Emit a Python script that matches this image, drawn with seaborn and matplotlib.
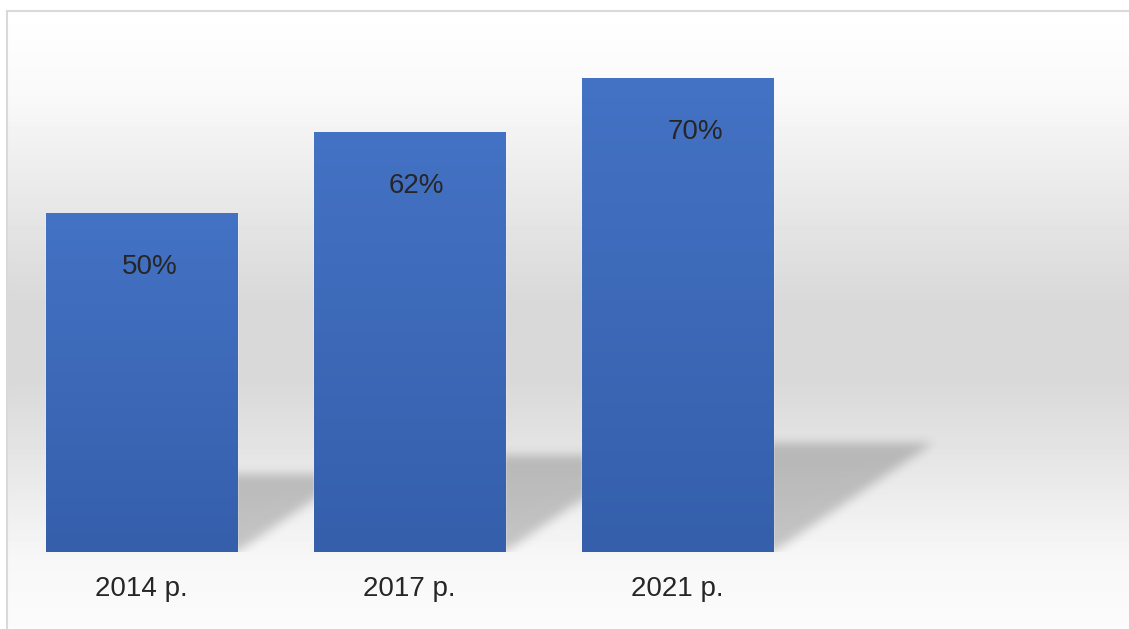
import numpy as np
import pandas as pd
import seaborn as sns
import matplotlib.pyplot as plt
from matplotlib.colors import LinearSegmentedColormap

# dados do gráfico
anos = ["2014 р.", "2017 р.", "2021 р."]
valores = [50, 62, 70]
rotulos = [f"{v}%" for v in valores]

# deslocamento horizontal dos rótulos (pixels), como na imagem original
rotulo_dx = [8, 7, 18]

W, H = 1129, 629
sns.set_theme(style="white")
plt.rcParams['font.family'] = ['Liberation Sans', 'DejaVu Sans']

fig = plt.figure(figsize=(W / 100, H / 100), dpi=100)

# 1. Fundo com gradiente cinza (moldura do gráfico)
bg = fig.add_axes([0, 0, 1, 1], zorder=0)
bg.set_xlim(0, W)
bg.set_ylim(H, 0)
bg.axis('off')
ys = np.arange(11, H)
niveis = np.interp(ys, [11, 100, 150, 300, 380, 420, 560, 629],
                   [1.0, 0.975, 0.94, 0.85, 0.85, 0.875, 0.97, 0.985])
bg.imshow(np.repeat(niveis[:, None], W - 7, axis=1), cmap='gray', vmin=0, vmax=1,
          extent=[7, W, H, 11], origin='upper', aspect='auto', interpolation='none')
bg.plot([7, 7], [H, 11], color='#d9d9d9', lw=1.5)
bg.plot([7, W], [11, 11], color='#d9d9d9', lw=1.5)

# 2. Gráfico de barras
ax = fig.add_axes([7.5 / W, 77 / H, (W - 7.5) / W, 541 / H], zorder=1)
ax.patch.set_alpha(0)
df = pd.DataFrame({"ano": anos, "valor": valores})
sns.barplot(data=df, x="ano", y="valor", color="#4472c4", saturation=1,
            width=0.713, ax=ax)

x_lim = (-0.5, -0.5 + (W - 7.5) / 268)
y_lim = (0, 80)
ax.set_xlim(*x_lim)
ax.set_ylim(*y_lim)

# px por unidade de dados
sx = 268
sy = 541 / 80

# 3. Sombra em perspectiva atrás das barras (desfocada)
nx, ny = int(W - 7.5), 541
gx = np.linspace(x_lim[0], x_lim[1], nx)
gy = np.linspace(y_lim[0], y_lim[1], ny)
X, Y = np.meshgrid(gx, gy)
mask = np.zeros_like(X)
for p in ax.patches:
    x0 = p.get_x()
    x1 = x0 + p.get_width()
    h = p.get_height()
    hs = 0.23 * h
    dx = 0.337 * h * sy / sx
    t = Y / hs
    dentro = (t >= 0) & (t <= 1) & (X >= x0 + dx * t) & (X <= x1 + dx * t)
    mask[dentro] = 1.0

sigma = 5
k = np.arange(-3 * sigma, 3 * sigma + 1)
kern = np.exp(-k ** 2 / (2 * sigma ** 2))
kern /= kern.sum()
mask = np.apply_along_axis(lambda r: np.convolve(r, kern, mode='same'), 1, mask)
mask = np.apply_along_axis(lambda c: np.convolve(c, kern, mode='same'), 0, mask)

sombra = np.zeros((ny, nx, 4))
sombra[..., 3] = mask * 0.2
ax.imshow(sombra, extent=[x_lim[0], x_lim[1], y_lim[0], y_lim[1]], origin='lower',
          aspect='auto', zorder=0.5, interpolation='none')

# gradiente azul nas barras
cmap_barra = LinearSegmentedColormap.from_list("barra", ["#355fab", "#4472c4"])
grad = np.linspace(0, 1, 256)[:, None]
for p in ax.patches:
    x0 = p.get_x()
    x1 = x0 + p.get_width()
    h = p.get_height()
    ax.imshow(grad, extent=[x0, x1, 0, h], origin='lower', aspect='auto',
              cmap=cmap_barra, zorder=2)

# 4. Rótulos de dados
for i, (p, txt) in enumerate(zip(ax.patches, rotulos)):
    cx = p.get_x() + p.get_width() / 2
    ax.annotate(txt, xy=(cx, p.get_height()), xytext=(rotulo_dx[i], -53),
                textcoords='offset pixels', ha='center', va='center',
                fontsize=20, color='#262626', zorder=3)

ax.set_xlim(*x_lim)
ax.set_ylim(*y_lim)
ax.set_xlabel("")
ax.set_ylabel("")
ax.set_yticks([])
ax.tick_params(axis='x', length=0, pad=17, labelsize=20, labelcolor='#262626')
sns.despine(ax=ax, left=True, bottom=True)

fig.savefig("out.png", dpi=100)
